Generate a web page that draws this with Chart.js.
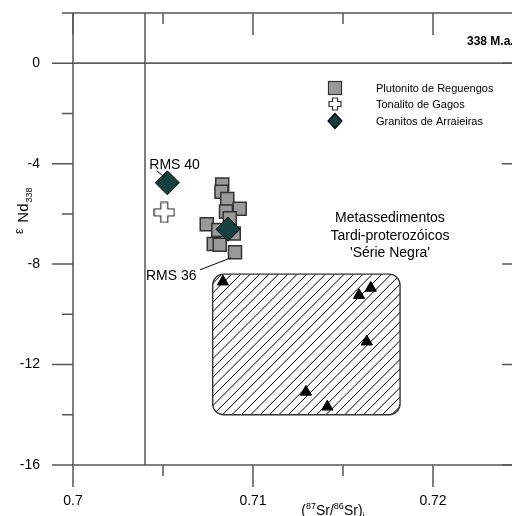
<!DOCTYPE html>
<html lang="pt">
<head>
<meta charset="UTF-8">
<title>εNd338 vs (87Sr/86Sr)i</title>
<script src="https://cdn.jsdelivr.net/npm/chart.js"></script>
<style>
  html, body { margin: 0; padding: 0; background: #fff; overflow: hidden; }
  #wrap { width: 512px; height: 516px; overflow: hidden; }
</style>
</head>
<body>
<div id="wrap"><canvas id="srNd" width="540" height="516"></canvas></div>
<script>
// Plutonito de Reguengos
const plutSr = [0.70829, 0.70825, 0.70857, 0.70926, 0.70850, 0.70871, 0.70743, 0.70807, 0.70893, 0.70782, 0.70815, 0.70900];
const plutNd = [-4.83, -5.12, -5.41, -5.80, -5.91, -6.17, -6.41, -6.64, -6.78, -7.20, -7.23, -7.53];
// Tonalito de Gagos
const gagosSr = [0.70507];
const gagosNd = [-5.94];
// Granitos de Arraieiras
const arraSr = [0.70524, 0.70861];
const arraNd = [-4.76, -6.61];
// Metassedimentos 'Série Negra'
const negraSr = [0.70833, 0.71589, 0.71654, 0.71632, 0.71294, 0.71413];
const negraNd = [-8.70, -9.24, -8.95, -11.09, -13.09, -13.68];
// campo tracejado (Sr min/max, Nd max/min)
const negraBoxSr = [0.70776, 0.71817];
const negraBoxNd = [-8.4, -14.0];
const srLine = 0.704;

const legendNames = ['Plutonito de Reguengos', 'Tonalito de Gagos', 'Granitos de Arraieiras'];
const negraText = ['Metassedimentos', 'Tardi-proterozóicos', "'Série Negra'"];

const FONT = '"Liberation Sans", Arial, sans-serif';
const AXIS = '#555';

const toPts = (xs, ys) => xs.map((v, i) => ({ x: v, y: ys[i] }));

// cruz branca contornada
function plusCanvas(size, arm) {
  const c = document.createElement('canvas');
  c.width = size; c.height = size;
  const g = c.getContext('2d');
  const m = size / 2, h = arm / 2, e = size / 2 - 1;
  g.beginPath();
  g.moveTo(m - h, m - e); g.lineTo(m + h, m - e); g.lineTo(m + h, m - h);
  g.lineTo(m + e, m - h); g.lineTo(m + e, m + h); g.lineTo(m + h, m + h);
  g.lineTo(m + h, m + e); g.lineTo(m - h, m + e); g.lineTo(m - h, m + h);
  g.lineTo(m - e, m + h); g.lineTo(m - e, m - h); g.lineTo(m - h, m - h);
  g.closePath();
  g.fillStyle = '#fff'; g.fill();
  g.lineWidth = 1.2; g.strokeStyle = '#333'; g.stroke();
  return c;
}
const bigPlus = plusCanvas(22, 7);
const smallPlus = plusCanvas(14, 5);

function rich(ctx, parts, x, y) {
  let cx = x;
  parts.forEach(p => {
    ctx.font = p.size + 'px ' + FONT;
    cx += p.gap || 0;
    ctx.fillText(p.t, cx, y + (p.dy || 0));
    cx += ctx.measureText(p.t).width;
  });
  return cx - x;
}
function richWidth(ctx, parts) {
  let w = 0;
  parts.forEach(p => {
    ctx.font = p.size + 'px ' + FONT;
    w += (p.gap || 0) + ctx.measureText(p.t).width;
  });
  return w;
}

const isMajorX = v => Math.abs(v * 100 - Math.round(v * 100)) < 1e-6;
const isMajorY = v => Math.abs(v / 4 - Math.round(v / 4)) < 1e-6;

function noPad(s) {
  s.paddingTop = 0; s.paddingBottom = 0; s.paddingLeft = 0; s.paddingRight = 0;
}

const decor = {
  id: 'decor',
  beforeDatasetsDraw(chart) {
    const { ctx, chartArea: a, scales: { x, y } } = chart;
    ctx.save();
    // campo 'Série Negra'
    const bx0 = x.getPixelForValue(negraBoxSr[0]), bx1 = x.getPixelForValue(negraBoxSr[1]);
    const by0 = y.getPixelForValue(negraBoxNd[0]), by1 = y.getPixelForValue(negraBoxNd[1]);
    ctx.beginPath();
    ctx.roundRect(bx0, by0, bx1 - bx0, by1 - by0, 11);
    ctx.save();
    ctx.clip();
    ctx.strokeStyle = '#000';
    ctx.lineWidth = 1;
    ctx.beginPath();
    for (let s = bx0 - (by1 - by0); s < bx1 + 10; s += 9.4) {
      ctx.moveTo(s, by1);
      ctx.lineTo(s + (by1 - by0), by0);
    }
    ctx.stroke();
    ctx.restore();
    ctx.beginPath();
    ctx.roundRect(bx0, by0, bx1 - bx0, by1 - by0, 11);
    ctx.lineWidth = 1.4;
    ctx.strokeStyle = '#333';
    ctx.stroke();

    // linha zero e linha Sr
    ctx.strokeStyle = '#222';
    ctx.lineWidth = 1.3;
    const y0 = y.getPixelForValue(0);
    ctx.beginPath(); ctx.moveTo(a.left, y0); ctx.lineTo(a.right, y0); ctx.stroke();
    ctx.strokeStyle = AXIS;
    ctx.lineWidth = 1.5;
    const xs = x.getPixelForValue(srLine);
    ctx.beginPath(); ctx.moveTo(xs, a.top); ctx.lineTo(xs, a.bottom); ctx.stroke();
    ctx.restore();
  },
  afterDatasetsDraw(chart) {
    const { ctx, chartArea: a, scales: { x, y } } = chart;
    ctx.save();
    // moldura
    ctx.strokeStyle = AXIS;
    ctx.lineWidth = 1.5;
    ctx.strokeRect(a.left, a.top, a.right - a.left, a.bottom - a.top);
    // marcas
    ctx.beginPath();
    x.ticks.forEach(t => {
      const px = x.getPixelForValue(t.value);
      const L = isMajorX(t.value) ? 22 : 11;
      ctx.moveTo(px, a.bottom); ctx.lineTo(px, a.bottom + L);
      ctx.moveTo(px, a.top); ctx.lineTo(px, a.top + L);
    });
    y.ticks.forEach(t => {
      const py = y.getPixelForValue(t.value);
      const L = isMajorY(t.value) ? 21 : 11;
      ctx.moveTo(a.left - L, py); ctx.lineTo(a.left, py);
      ctx.moveTo(a.right - L, py); ctx.lineTo(a.right, py);
    });
    ctx.stroke();

    ctx.fillStyle = '#000';
    ctx.strokeStyle = '#000';
    ctx.lineWidth = 1;
    ctx.textBaseline = 'alphabetic';

    // título 338 M.a.
    ctx.font = 'bold 12px ' + FONT;
    ctx.fillText('338 M.a.', a.left + 394, a.top + 32);

    // legenda
    const lx = a.left + 262, ly = [a.top + 75, a.top + 91, a.top + 108];
    ctx.fillStyle = '#9a9a9a'; ctx.strokeStyle = '#333'; ctx.lineWidth = 1.2;
    ctx.fillRect(lx - 6.5, ly[0] - 6.5, 13, 13);
    ctx.strokeRect(lx - 6.5, ly[0] - 6.5, 13, 13);
    ctx.drawImage(smallPlus, lx - 7, ly[1] - 7);
    ctx.beginPath();
    ctx.moveTo(lx, ly[2] - 7.5); ctx.lineTo(lx + 7, ly[2]); ctx.lineTo(lx, ly[2] + 7.5); ctx.lineTo(lx - 7, ly[2]);
    ctx.closePath();
    ctx.fillStyle = '#163f3f'; ctx.fill();
    ctx.strokeStyle = '#000'; ctx.stroke();
    ctx.fillStyle = '#000';
    ctx.font = '11px ' + FONT;
    legendNames.forEach((n, i) => ctx.fillText(n, lx + 41, ly[i] + 4));

    // rótulos de amostras
    ctx.font = '14px ' + FONT;
    ctx.lineWidth = 1;
    ctx.strokeStyle = '#000';
    const p40 = { x: x.getPixelForValue(arraSr[0]), y: y.getPixelForValue(arraNd[0]) };
    ctx.fillText('RMS 40', p40.x - 18, p40.y - 14);
    ctx.beginPath(); ctx.moveTo(p40.x - 10.5, p40.y - 12); ctx.lineTo(p40.x - 3, p40.y - 5.5); ctx.stroke();
    const last = plutSr.length - 1;
    const p36 = { x: x.getPixelForValue(plutSr[last]), y: y.getPixelForValue(plutNd[last]) };
    ctx.fillText('RMS 36', p36.x - 89, p36.y + 27.5);
    ctx.beginPath(); ctx.moveTo(p36.x - 35, p36.y + 17.5); ctx.lineTo(p36.x - 4, p36.y + 5.5); ctx.stroke();

    // texto do campo
    ctx.textAlign = 'center';
    const tx = x.getPixelForValue(0.71761), ty = y.getPixelForValue(-6.84);
    negraText.forEach((s, i) => ctx.fillText(s, tx, ty + 5 + (i - 1) * 17.5));
    ctx.textAlign = 'left';

    // título eixo x
    const xt = [
      { t: '(', size: 14 }, { t: '87', size: 9, dy: -6 }, { t: 'Sr/', size: 14 },
      { t: '86', size: 9, dy: -6 }, { t: 'Sr)', size: 14 }, { t: 'i', size: 9, dy: 4 }
    ];
    const w = richWidth(ctx, xt);
    rich(ctx, xt, x.getPixelForValue(0.71444) - w / 2, a.bottom + 50);

    // título eixo y
    ctx.translate(28, y.getPixelForValue(-6.8));
    ctx.rotate(-Math.PI / 2);
    rich(ctx, [
      { t: 'ε', size: 12, dy: -5 }, { t: 'Nd', size: 15, gap: 6 }, { t: '338', size: 9, dy: 4, gap: 1 }
    ], 0, 0);
    ctx.restore();
  }
};

new Chart(document.getElementById('srNd'), {
  type: 'scatter',
  data: {
    datasets: [
      {
        label: legendNames[2], data: toPts(arraSr, arraNd),
        pointStyle: 'rectRot', pointRadius: 12, backgroundColor: '#163f3f', borderColor: '#000', borderWidth: 1
      },
      {
        label: legendNames[1], data: toPts(gagosSr, gagosNd),
        pointStyle: bigPlus
      },
      {
        label: legendNames[0], data: toPts(plutSr, plutNd),
        pointStyle: 'rect', pointRadius: 9.2, backgroundColor: '#9a9a9a', borderColor: '#333', borderWidth: 1.5
      },
      {
        label: 'Série Negra', data: toPts(negraSr, negraNd),
        pointStyle: 'triangle', pointRadius: 6.5, backgroundColor: '#000', borderColor: '#000', borderWidth: 1
      }
    ]
  },
  options: {
    responsive: false,
    animation: false,
    events: [],
    layout: { padding: { top: 13, right: 17, left: 0, bottom: 0 } },
    plugins: { legend: { display: false }, tooltip: { enabled: false } },
    scales: {
      x: {
        type: 'linear', min: 0.7, max: 0.725,
        afterFit(s) { s.height = 51; noPad(s); },
        grid: { display: false, drawTicks: false },
        border: { display: false },
        ticks: {
          stepSize: 0.005, padding: 28, color: '#000', autoSkip: false, maxRotation: 0,
          font: { family: FONT, size: 14 },
          callback: v => isMajorX(v) ? String(Math.round(v * 100) / 100) : ''
        }
      },
      y: {
        type: 'linear', min: -16, max: 2,
        afterFit(s) { s.width = 73; noPad(s); },
        grid: { display: false, drawTicks: false },
        border: { display: false },
        ticks: {
          stepSize: 2, padding: 33, color: '#000', autoSkip: false,
          font: { family: FONT, size: 14 },
          callback: v => isMajorY(v) ? String(v) : ''
        }
      }
    }
  },
  plugins: [decor]
});
</script>
</body>
</html>
